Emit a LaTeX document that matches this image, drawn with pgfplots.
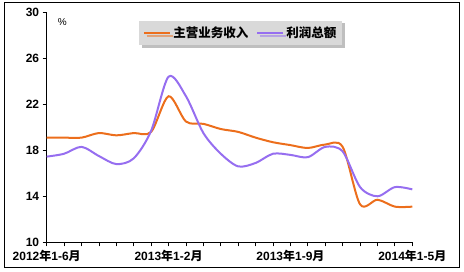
\documentclass[border=0pt]{standalone}
\usepackage{fontspec}
\setmainfont{Liberation Sans}
\newfontfamily\cjk{Noto Sans CJK SC}
\usepackage{pgfplots}
\usepackage{pgfplotstable}
\pgfplotsset{compat=1.18}
\usetikzlibrary{shadows}
\definecolor{org}{RGB}{236,110,28}
\definecolor{pur}{RGB}{150,110,240}
\pgfplotstableread{
i inc prof
0 19.1 17.45
1 19.1 17.7
2 19.1 18.3
3 19.5 17.5
4 19.3 16.8
5 19.5 17.3
6 19.6 19.7
7 22.7 24.4
8 20.5 22.7
9 20.3 19.5
10 19.85 17.7
11 19.6 16.6
12 19.1 16.9
13 18.7 17.7
14 18.45 17.6
15 18.2 17.4
16 18.5 18.3
17 18.3 17.9
18 13.3 14.8
19 13.7 14.0
20 13.1 14.8
21 13.1 14.6
}\datatable
\begin{document}
\begin{tikzpicture}
\path (0pt,0pt) rectangle (464pt,272pt);
\draw[line width=1pt] (4pt,4pt) rectangle (459pt,269pt);
\begin{axis}[
  at={(46.7pt,29.7pt)}, anchor=south west,
  scale only axis, width=365.6pt, height=230pt,
  xmin=0, xmax=21, ymin=10, ymax=30,
  axis lines*=left,
  axis line style={line width=0.8pt},
  every tick/.style={black, line width=0.8pt},
  tick align=outside, major tick length=4pt,
  ytick={10,14,...,30},
  xtick={0,...,21},
  xticklabels={2012{\cjk 年}1-6{\cjk 月},,,,,,,2013{\cjk 年}1-2{\cjk 月},,,,,,,2013{\cjk 年}1-9{\cjk 月},,,,,,,2014{\cjk 年}1-5{\cjk 月}},
  /pgf/number format/assume math mode=true,
  tick label style={font=\fontsize{12}{14}\selectfont\bfseries},
  clip=false,
  legend style={at={(0.531,0.91)}, anchor=center, legend columns=2,
    fill=gray!30, draw=none, drop shadow, inner sep=4pt,
    font=\fontsize{12.5}{15}\selectfont\cjk\bfseries,
    /tikz/every even column/.append style={column sep=6pt}},
  legend image code/.code={\draw[#1] (0pt,0pt) -- (26pt,0pt);},
]
\addplot[org, line width=2pt, smooth] table[x=i, y=inc] {\datatable};
\addlegendentry{主营业务收入}
\addplot[pur, line width=2pt, smooth] table[x=i, y=prof] {\datatable};
\addlegendentry{利润总额}
\node[font=\fontsize{10}{12}\selectfont] at (rel axis cs:0.043,0.958) {\%};
\end{axis}
\end{tikzpicture}
\end{document}
